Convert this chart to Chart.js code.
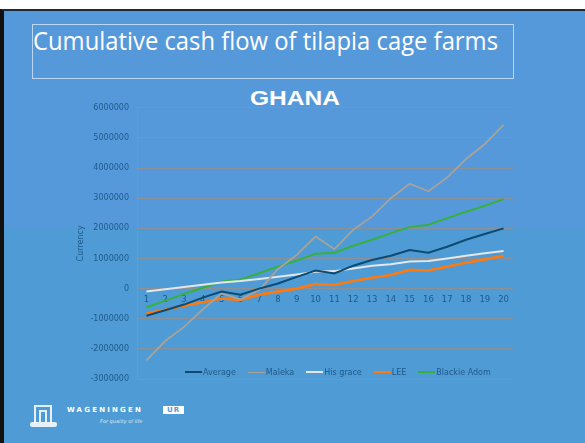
<!DOCTYPE html>
<html>
<head>
<meta charset="utf-8">
<script src="https://cdn.jsdelivr.net/npm/chart.js@4"></script>
<style>
  html, body { margin: 0; padding: 0; background: #fff; }
  body { width: 585px; height: 443px; position: relative; overflow: hidden; }
  .slide {
    position: absolute; left: 0; top: 9px; width: 585px; height: 434px;
    border-top: 2px solid #1b2a3a; border-left: 4px solid #111;
    box-sizing: border-box;
    background: linear-gradient(#5699db 0, #5699db 217px, #4f9bd5 217px, #4f9bd5 100%);
  }
  .title-box {
    position: absolute; left: 32px; top: 24px; width: 482px; height: 55px;
    border: 1px solid rgba(255,255,255,0.6); box-sizing: border-box;
  }
  .title {
    position: absolute; left: 33px; top: 23px; white-space: nowrap;
    font-family: "Open Sans", sans-serif; font-size: 25px; color: #fff;
    line-height: 34px; transform-origin: 0 0;
  }
  .ghana {
    position: absolute; left: 250px; top: 86px; white-space: nowrap;
    font-family: "Liberation Sans", Arial, sans-serif; font-weight: bold;
    font-size: 20px; line-height: 24px; color: #fff; transform-origin: 0 0;
  }
  #chartWrap { position: absolute; left: 70px; top: 95px; width: 460px; height: 300px; }
  #legend {
    position: absolute; left: 185px; top: 366px; height: 12px; display: flex;
    font-family: "DejaVu Sans", sans-serif; font-size: 8px; color: #1e5a8a;
    align-items: center; white-space: nowrap;
  }
  #legend .item { display: flex; align-items: center; margin-right: 12px; }
  #legend .swatch { width: 17px; height: 0; margin-right: 1px; }
  .logo { position: absolute; left: 30px; top: 404px; width: 200px; height: 30px; }
  .logo .icon {
    position: absolute; left: 4px; top: 1px; width: 18px; height: 18px;
    border: 2px solid #fff; border-bottom: none; box-sizing: border-box; opacity: 0.85;
  }
  .logo .icon2 {
    position: absolute; left: 9px; top: 6px; width: 8px; height: 12px;
    border: 2px solid #fff; border-bottom: none; box-sizing: border-box; opacity: 0.85;
  }
  .logo .base {
    position: absolute; left: 0; top: 18px; width: 27px; height: 5px;
    background: #fff; border-radius: 2px; opacity: 0.85;
  }
  .logo .name {
    position: absolute; left: 37px; top: 2px; font-family: "DejaVu Sans", sans-serif;
    font-size: 7px; font-weight: bold; letter-spacing: 2.2px; color: #fff;
  }
  .logo .ur {
    position: absolute; left: 133px; top: 2px; width: 21px; height: 8px;
    background: #fff; color: #4f9bd5; font-family: "DejaVu Sans", sans-serif;
    font-size: 7px; font-weight: bold; line-height: 8px; text-align: center; letter-spacing: 1px;
  }
  .logo .tag {
    position: absolute; left: 70px; top: 14px; font-family: "DejaVu Sans", sans-serif;
    font-size: 5px; font-style: italic; color: #dbe9f7;
  }
</style>
</head>
<body>
<div class="slide"></div>
<div class="title-box"></div>
<div class="title" id="title">Cumulative cash flow of tilapia cage farms</div>
<div class="ghana" id="ghana">GHANA</div>
<div id="chartWrap"><canvas id="cashFlowChart" width="460" height="300"></canvas></div>
<div id="legend"></div>
<div class="logo">
  <div class="icon"></div><div class="icon2"></div><div class="base"></div>
  <div class="name">WAGENINGEN</div><div class="ur">UR</div>
  <div class="tag">For quality of life</div>
</div>
<script>
// Data
const years = ["1", "2", "3", "4", "5", "6", "7", "8", "9", "10",
  "11", "12", "13", "14", "15", "16", "17", "18", "19", "20"];
const average = [-900000, -720000, -530000, -300000, -100000, -200000, 0, 170000, 390000, 600000,
  500000, 760000, 950000, 1090000, 1280000, 1190000, 1390000, 1620000, 1810000, 2000000];
const maleka = [-2380000, -1740000, -1270000, -690000, -160000, -360000, -50000, 650000, 1120000, 1730000,
  1310000, 1950000, 2390000, 3000000, 3480000, 3230000, 3690000, 4300000, 4800000, 5430000];
const hisGrace = [-100000, -20000, 50000, 130000, 200000, 250000, 320000, 390000, 470000, 560000,
  580000, 670000, 760000, 810000, 900000, 920000, 1000000, 1090000, 1170000, 1250000];
const lee = [-830000, -700000, -570000, -450000, -330000, -380000, -200000, -100000, 0, 150000,
  120000, 250000, 360000, 450000, 620000, 600000, 730000, 860000, 970000, 1090000];
const blackieAdom = [-620000, -400000, -180000, 30000, 230000, 300000, 510000, 730000, 930000, 1160000,
  1190000, 1420000, 1620000, 1840000, 2040000, 2120000, 2340000, 2550000, 2750000, 2970000];
const yMin = -3000000;
const yMax = 6000000;
const yStep = 1000000;

// Fit headline widths to the slide
const fitWidth = (id, target) => {
  const el = document.getElementById(id);
  const w = el.getBoundingClientRect().width;
  if (w > 0) el.style.transform = `scaleX(${target / w})`;
};
fitWidth("title", 465);
fitWidth("ghana", 90);

const tickColor = "#1e5a8a";
const gridColor = "#8a9199";

const makeSet = (label, data, color, width) => ({
  label,
  data,
  borderColor: color,
  backgroundColor: color,
  borderWidth: width,
  pointRadius: 0,
  tension: 0,
  fill: false,
});

const chart = new Chart(document.getElementById("cashFlowChart").getContext("2d"), {
  type: "line",
  data: {
    labels: years,
    datasets: [
      makeSet("Average", average, "#0d4b70", 2),
      makeSet("Maleka", maleka, "#a8a299", 1.8),
      makeSet("His grace", hisGrace, "#e4e6e8", 2),
      makeSet("LEE", lee, "#ff7a0e", 2.6),
      makeSet("Blackie Adom", blackieAdom, "#36b23c", 2),
    ],
  },
  options: {
    responsive: false,
    animation: false,
    layout: { padding: { top: 12, right: 17, bottom: 16, left: 0 } },
    plugins: {
      legend: { display: false },
      tooltip: { enabled: false },
      title: { display: false },
    },
    scales: {
      x: {
        position: { y: 0 },
        offset: true,
        grid: { display: false, drawTicks: false },
        border: { display: false },
        ticks: {
          color: tickColor,
          padding: 6,
          maxRotation: 0,
          autoSkip: false,
          font: { family: "DejaVu Sans", size: 8.5 },
        },
      },
      y: {
        min: yMin,
        max: yMax,
        afterFit: (scale) => { scale.width = 67; },
        grid: { color: gridColor, lineWidth: 1, drawTicks: false },
        border: { display: true, color: gridColor, width: 1 },
        ticks: {
          stepSize: yStep,
          color: tickColor,
          padding: 8,
          font: { family: "DejaVu Sans", size: 8 },
          callback: (v) => String(v),
        },
        title: {
          display: true,
          text: "Currency",
          color: tickColor,
          padding: { top: 6, bottom: 0 },
          font: { family: "DejaVu Sans", size: 8 },
        },
      },
    },
  },
});

// Legend built from the chart's datasets
const legend = document.getElementById("legend");
legend.innerHTML = chart.data.datasets
  .map(
    (ds) => `<div class="item"><span class="swatch" style="border-top:${ds.borderWidth}px solid ${ds.borderColor}"></span>${ds.label}</div>`
  )
  .join("");
</script>
</body>
</html>
